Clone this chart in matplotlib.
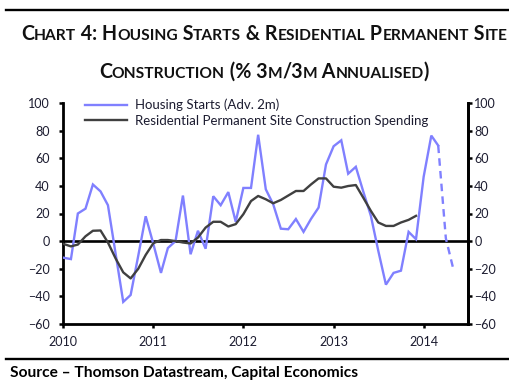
import matplotlib
matplotlib.use('Agg')
import matplotlib.pyplot as plt
import matplotlib.dates as mdates
import pandas as pd
from matplotlib.lines import Line2D

# ---------------- data ----------------
housing_starts = [  # Jan 2010 - Mar 2014
    -12, -13, 20, 23.5, 41, 36, 26, -9, -44, -39, -10.5, 18,
    -2, -23, -5, 0, 33, -9.5, 7.5, -5.5, 32.5, 26, 35.5, 14,
    38.5, 38.5, 77, 37.5, 26.7, 9, 8.6, 16, 6.7, 16, 24.3, 55.5,
    68.7, 73, 48.8, 53.8, 36, 18.3, -7, -31.5, -23, -21.4, 6.7, 1.4,
    46.6, 76.4, 69.2]
housing_starts_proj = [69.2, 2, -20]  # Mar 2014 - May 2014 (dashed)
resid_spending = [  # Jan 2010 - Dec 2013
    -2, -3.8, -2.5, 3.5, 7.5, 7.7, -1, -12.5, -22.6, -27, -20, -10,
    -1.5, 0.8, 0.8, 0, -1, -1.7, 2.6, 9.8, 14, 14, 10.6, 12.3,
    19.5, 29, 32.7, 30.3, 27.4, 29.8, 33, 36.3, 36.3, 41, 45.4, 45.4,
    39.4, 38.7, 39.9, 40.6, 31.5, 21.9, 13.5, 11, 11, 13.5, 15.4, 18.3]
series_labels = ['Housing Starts (Adv. 2m)',
                 'Residential Permanent Site Construction Spending']
year_labels = ['2010', '2011', '2012', '2013', '2014']
y_ticks = [-60, -40, -20, 0, 20, 40, 60, 80, 100]

dates_hs = pd.date_range('2010-01-01', periods=len(housing_starts), freq='MS')
dates_proj = pd.date_range(dates_hs[-1], periods=len(housing_starts_proj), freq='MS')
dates_rs = pd.date_range('2010-01-01', periods=len(resid_spending), freq='MS')
year_ticks = pd.to_datetime([y + '-01-01' for y in year_labels])

# ---------------- style ----------------
W, H, DPI = 510, 389, 100
BLUE = '#8080ff'
DARK = '#404040'
TXT = '#1c1c30'
FONT = ['Lato', 'DejaVu Sans']
plt.rcParams['font.family'] = FONT

fig = plt.figure(figsize=(W / DPI, H / DPI), dpi=DPI)

L, R, T, B = 63.3, 468.3, 103, 324
ax = fig.add_axes([L / W, 1 - B / H, (R - L) / W, (B - T) / H])

ax.plot(dates_hs, housing_starts, color=BLUE, lw=1.7, solid_joinstyle='miter',
        label=series_labels[0], zorder=3)
ax.plot(dates_proj, housing_starts_proj, color=BLUE, lw=1.7, dashes=(3.2, 2.2),
        zorder=3)
ax.plot(dates_rs, resid_spending, color=DARK, lw=1.7, label=series_labels[1],
        zorder=4)
ax.axhline(0, color='black', lw=1.9, zorder=2)

ax.set_ylim(-60, 100)
ax.set_xlim(pd.Timestamp('2010-01-01'), pd.Timestamp('2014-07-01'))
ax.set_yticks(y_ticks)
ax.set_xticks(year_ticks)
ax.set_xticklabels(year_labels)

ax.spines['top'].set_visible(False)
for s in ['left', 'right', 'bottom']:
    ax.spines[s].set_linewidth(2.0)
    ax.spines[s].set_color('black')

TICK_SIZE = 9.0
ax.tick_params(axis='y', direction='out', length=2.8, width=1.8, pad=7,
               labelsize=TICK_SIZE, labelcolor=TXT, color='black')
ax.tick_params(axis='x', direction='out', length=2.8, width=1.8, pad=5.5,
               labelsize=TICK_SIZE, labelcolor=TXT, color='black')

ax2 = ax.twinx()
ax2.set_ylim(-60, 100)
ax2.set_yticks(y_ticks)
for s in ['top', 'left', 'bottom']:
    ax2.spines[s].set_visible(False)
ax2.spines['right'].set_linewidth(2.0)
ax2.tick_params(axis='y', direction='out', length=2.8, width=1.8, pad=1.5,
                labelsize=TICK_SIZE, labelcolor=TXT, color='black')

h1 = Line2D([], [], color=BLUE, lw=1.7)
h2 = Line2D([], [], color=DARK, lw=1.7)
leg = ax.legend([h1, h2], series_labels, loc='upper left',
                bbox_to_anchor=((86.7 - L) / (R - L) - 0.003, 1.02),
                frameon=False, fontsize=9.5, handlelength=3.15,
                handletextpad=0.62, labelspacing=0.3, borderpad=0,
                borderaxespad=0)
for t in leg.get_texts():
    t.set_color(TXT)

# ---------------- rules and texts ----------------
fig.add_artist(Line2D([6 / W, 1], [1 - 10 / H, 1 - 10 / H], color='black', lw=1.7))
fig.add_artist(Line2D([6 / W, 1], [1 - 359 / H, 1 - 359 / H], color='black', lw=1.7))

fig.text(10 / W, 1 - 373 / H, 'Source \u2013 Thomson Datastream, Capital Economics',
         fontsize=11.2, fontweight='bold', va='center', ha='left', color='black')

renderer = fig.canvas.get_renderer()


def run_width(s, size):
    kw = dict(fontsize=size, fontweight='bold', family=FONT)
    t1 = fig.text(0, 0, '|' + s + '|', **kw)
    t2 = fig.text(0, 0, '||', **kw)
    w = t1.get_window_extent(renderer).width - t2.get_window_extent(renderer).width
    t1.remove()
    t2.remove()
    return w


def small_caps(text, xc, y_base, big, small):
    runs = []
    for ch in text:
        size = small if ch.islower() else big
        if runs and runs[-1][1] == size:
            runs[-1][0] += ch.upper()
        else:
            runs.append([ch.upper(), size])
    widths = [run_width(s, sz) for s, sz in runs]
    x = xc - sum(widths) / 2
    for (s, sz), w in zip(runs, widths):
        fig.text(x / W, 1 - y_base / H, s, fontsize=sz, fontweight='bold',
                 ha='left', va='baseline', color='#111111', family=FONT)
        x += w


small_caps('Chart 4: Housing Starts & Residential Permanent Site', 264, 39.5, 14.1, 11.2)
small_caps('Construction (% 3m/3m Annualised)', 264, 77.5, 14.1, 11.2)

fig.savefig('out.png', dpi=DPI)
